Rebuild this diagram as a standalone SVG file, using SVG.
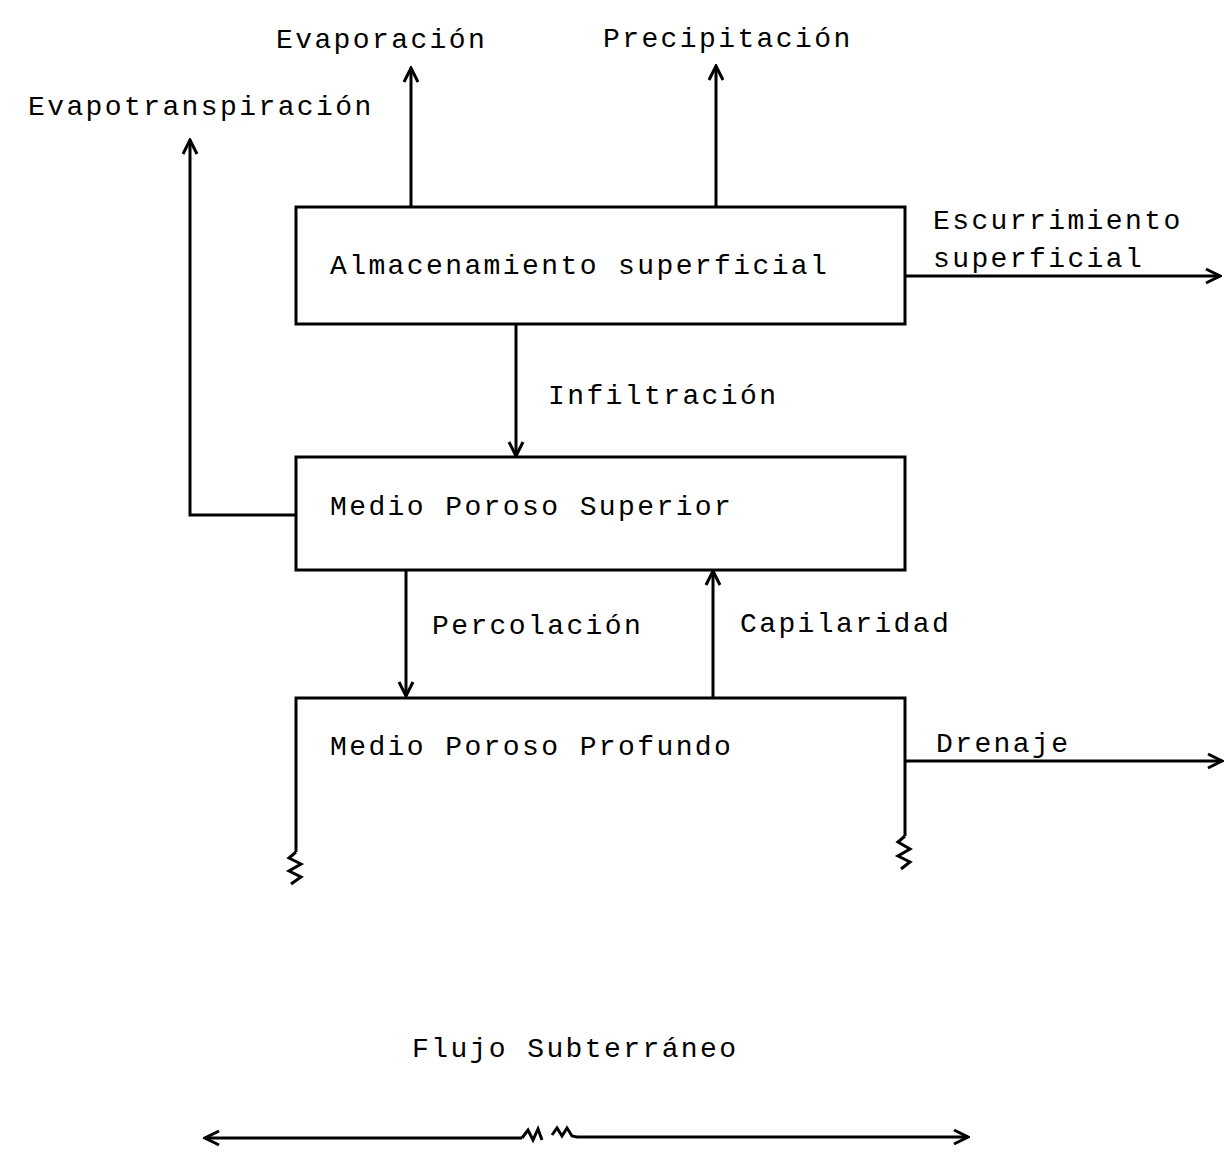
<svg xmlns="http://www.w3.org/2000/svg" width="1224" height="1158" viewBox="0 0 1224 1158">
<style>
text{font-family:"Liberation Mono","DejaVu Sans Mono",monospace;font-size:28px;letter-spacing:2.4px;fill:#000}
.ln{fill:none;stroke:#000;stroke-width:3;stroke-linejoin:miter}
.box{fill:#fff;stroke:#000;stroke-width:3}
</style>
<defs>
<marker id="ah" viewBox="0 0 20 20" refX="18" refY="10" markerWidth="20" markerHeight="20" markerUnits="userSpaceOnUse" orient="auto">
<path d="M4,3 L18,10 L4,17" fill="none" stroke="#000" stroke-width="3"/>
</marker>
</defs>
<rect width="1224" height="1158" fill="#fff"/>
<g id="connectors">
<path class="ln" d="M411,207 V68" marker-end="url(#ah)"/>
<path class="ln" d="M716,207 V66" marker-end="url(#ah)"/>
<path class="ln" d="M296,515 H190 V140" marker-end="url(#ah)"/>
<path class="ln" d="M905,276 H1220" marker-end="url(#ah)"/>
<path class="ln" d="M516,324 V456" marker-end="url(#ah)"/>
<path class="ln" d="M406,570 V696" marker-end="url(#ah)"/>
<path class="ln" d="M713,698 V571" marker-end="url(#ah)"/>
<path class="ln" d="M905,761 H1222" marker-end="url(#ah)"/>
<path class="ln" d="M522,1138 H205" marker-end="url(#ah)"/>
<path class="ln" d="M522,1138 L528,1130 L533,1140 L538,1129 L542,1140"/>
<path class="ln" d="M552,1135 L557,1128 L562,1136 L567,1128 L572,1136 L577,1137 H968" marker-end="url(#ah)"/>
</g>
<g id="almacenamiento">
<rect class="box" x="296" y="207" width="609" height="117"/>
<text x="330" y="274">Almacenamiento superficial</text>
</g>
<g id="medio-superior">
<rect class="box" x="296" y="457" width="609" height="113"/>
<text x="330" y="515">Medio Poroso Superior</text>
</g>
<g id="medio-profundo">
<path class="ln" d="M296,852 V698 H905 V836"/>
<path class="ln" d="M296,852 L289,858 L301,864 L289,871 L301,877 L291,884"/>
<path class="ln" d="M905,836 L898,842 L910,849 L898,856 L910,862 L901,869"/>
<text x="330" y="755">Medio Poroso Profundo</text>
</g>
<g id="labels">
<text x="276" y="48">Evaporación</text>
<text x="603" y="47">Precipitación</text>
<text x="28" y="115">Evapotranspiración</text>
<text x="933" y="229">Escurrimiento</text>
<text x="933" y="267">superficial</text>
<text x="548" y="404">Infiltración</text>
<text x="432" y="634">Percolación</text>
<text x="740" y="632">Capilaridad</text>
<text x="936" y="752">Drenaje</text>
<text x="412" y="1057">Flujo Subterráneo</text>
</g>
</svg>
